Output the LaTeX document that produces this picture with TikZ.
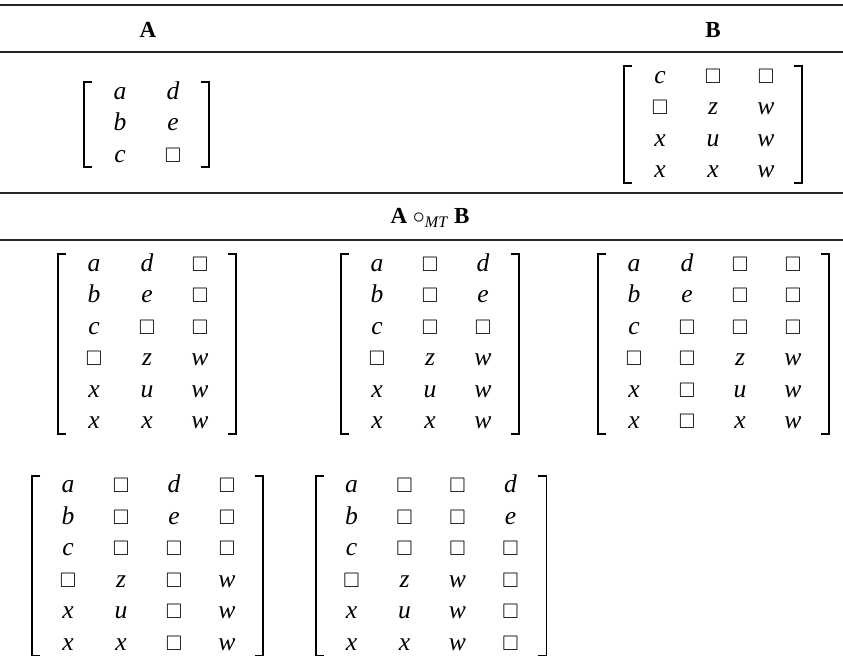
\documentclass[tikz,border=0pt]{standalone}
\usepackage{amssymb}
\usepackage{fontspec}
\setmainfont{Liberation Serif}
\usetikzlibrary{matrix}
\newcommand{\hole}{{\fontsize{10.5}{12}\selectfont$\square$}}

\begin{document}
\begin{tikzpicture}[
  x=0.5pt, y=-0.5pt,
  font=\fontsize{12}{14}\selectfont,
  rule/.style={line width=0.65pt, draw=black!85},
  hd/.style={font=\fontsize{11.5}{14}\selectfont\bfseries},
  cell/.style={font=\fontsize{12.8}{14}\selectfont\itshape, minimum width=26.5pt,
    inner xsep=0pt, inner ysep=3.375pt, text height=7.5pt, text depth=1.5pt},
  mat/.style={matrix of nodes, nodes={cell}, inner sep=0pt, row sep=0pt, column sep=0pt},
  brk/.style={line width=0.9pt}]
\useasboundingbox (0,0) rectangle (843,665);
% table rules
\draw[rule] (0,5) -- (843,5);
\draw[rule] (0,52) -- (843,52);
\draw[rule] (0,193) -- (843,193);
\draw[rule] (0,240) -- (843,240);
% operands
\node[hd] (hA) at (148,30) {A};
\node[hd] (hB) at (713,30) {B};
\matrix[mat] (mA) at (146.5,124.5) {
  a & d \\
  b & e \\
  c & \hole \\
};
\matrix[mat] (mB) at (713,124.5) {
  c & \hole & \hole \\
  \hole & z & w \\
  x & u & w \\
  x & x & w \\
};
% results
\node[hd] (hAB) at (430,218) {A $\circ$\textsubscript{\mdseries\itshape MT} B};
\matrix[mat] (p1) at (147,344) {
  a & d & \hole \\
  b & e & \hole \\
  c & \hole & \hole \\
  \hole & z & w \\
  x & u & w \\
  x & x & w \\
};
\matrix[mat] (p2) at (430,344) {
  a & \hole & d \\
  b & \hole & e \\
  c & \hole & \hole \\
  \hole & z & w \\
  x & u & w \\
  x & x & w \\
};
\matrix[mat] (p3) at (713.5,344) {
  a & d & \hole & \hole \\
  b & e & \hole & \hole \\
  c & \hole & \hole & \hole \\
  \hole & \hole & z & w \\
  x & \hole & u & w \\
  x & \hole & x & w \\
};
\matrix[mat] (p4) at (147.5,565.5) {
  a & \hole & d & \hole \\
  b & \hole & e & \hole \\
  c & \hole & \hole & \hole \\
  \hole & z & \hole & w \\
  x & u & \hole & w \\
  x & x & \hole & w \\
};
\matrix[mat] (p5) at (431,565.5) {
  a & \hole & \hole & d \\
  b & \hole & \hole & e \\
  c & \hole & \hole & \hole \\
  \hole & z & w & \hole \\
  x & u & w & \hole \\
  x & x & w & \hole \\
};
% brackets
\foreach \m in {mA,mB,p1,p2,p3,p4,p5} {
  \draw[brk] ([xshift=-0.5pt,yshift=-2.5pt]\m.north west) -- ([xshift=-4.5pt,yshift=-2.5pt]\m.north west)
    -- ([xshift=-4.5pt,yshift=2.5pt]\m.south west) -- ([xshift=-0.5pt,yshift=2.5pt]\m.south west);
  \draw[brk] ([xshift=0.5pt,yshift=-2.5pt]\m.north east) -- ([xshift=4.5pt,yshift=-2.5pt]\m.north east)
    -- ([xshift=4.5pt,yshift=2.5pt]\m.south east) -- ([xshift=0.5pt,yshift=2.5pt]\m.south east);
}
\end{tikzpicture}
\end{document}
